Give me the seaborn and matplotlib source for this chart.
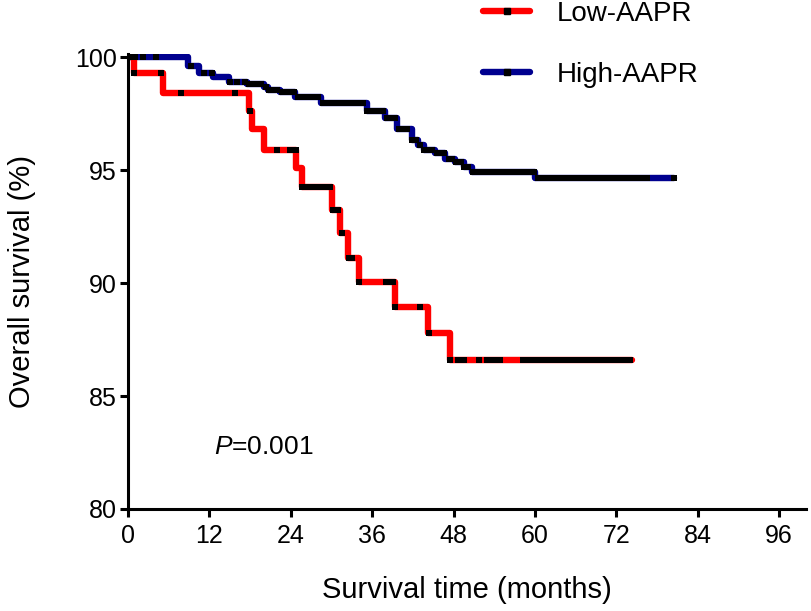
import numpy as np
import pandas as pd
import matplotlib
matplotlib.use('Agg')
import matplotlib.pyplot as plt
from matplotlib.lines import Line2D
import seaborn as sns

# Kaplan-Meier steps (months, % surviving)
low_t = [0, 0.9, 5.1, 17.9, 18.2, 20.1, 24.8, 25.6, 30.0, 31.2, 32.4, 34.1, 39.3, 44.3, 47.4]
low_s = [100, 99.29, 98.42, 97.6, 96.81, 95.88, 95.09, 94.26, 93.23, 92.21, 91.11, 90.04, 88.94, 87.79, 86.59]
low_end = 74.3
low_cens = [0.9, 4.9, 7.8, 15.7, 18.0, 21.9, 23.8, 24.3, 24.7, 25.7, 26.3, 26.9, 27.5, 28.1,
            28.7, 29.3, 29.8, 30.2, 30.6, 31.0, 31.5, 32.6, 33.0, 34.1, 38.1, 38.6, 39.0, 39.4,
            43.0, 44.4, 47.5, 48.7, 49.2, 49.6, 51.7, 52.9, 53.6, 54.2, 54.8, 58.3, 58.8, 59.3,
            59.8, 60.3, 60.8, 61.4, 61.9, 62.4, 62.9, 63.4, 63.9, 64.4, 64.9, 65.4, 65.9, 66.3,
            66.8, 67.3, 67.9, 68.4, 68.9, 69.4, 70.0, 70.5, 71.0, 71.5, 72.0, 72.5, 73.0, 73.5, 74.0]

high_t = [0, 8.9, 10.5, 12.5, 14.9, 17.6, 20.1, 20.6, 22.4, 24.6, 28.5, 35.2, 37.9, 39.6,
          41.8, 42.8, 43.7, 45.2, 46.7, 48.2, 49.6, 50.7, 60.0]
high_s = [100, 99.6, 99.3, 99.1, 98.9, 98.8, 98.7, 98.55, 98.45, 98.25, 97.95, 97.6, 97.3, 96.8,
          96.35, 96.1, 95.9, 95.75, 95.5, 95.35, 95.15, 94.9, 94.63]
high_end = 80.5
high_cens = [0.2, 0.6, 1.0, 2.2, 4.1, 9.3, 11.2, 12.3, 15.0, 16.0, 17.2, 17.9, 18.4, 19.1, 19.6,
             20.3, 20.8, 21.5, 22.0, 22.7, 23.2, 23.9, 24.4, 25.0, 25.7, 26.2, 26.9, 27.4, 28.0,
             28.7, 29.2, 29.8, 30.5, 31.0, 31.7, 32.2, 32.8, 33.5, 34.0, 34.6, 35.3, 35.8, 36.4,
             37.1, 37.6, 38.2, 38.9, 39.4, 40.0, 40.7, 41.2, 41.9, 42.4, 43.0, 43.7, 44.2, 44.8,
             45.5, 46.0, 46.6, 47.3, 47.8, 48.4, 49.1, 49.6, 50.2, 50.9, 51.4, 52.0, 52.7, 53.2,
             53.8, 54.5, 55.0, 55.6, 56.3, 56.8, 57.4, 58.1, 58.6, 59.2, 59.9, 60.4, 61.0, 61.7,
             62.2, 62.8, 63.5, 64.0, 64.6, 65.3, 65.8, 66.4, 67.1, 67.6, 68.2, 68.9, 69.4, 70.0,
             70.7, 71.2, 71.8, 72.5, 73.0, 73.6, 74.3, 74.8, 75.4, 76.1, 76.6, 80.5]

groups = ['Low-AAPR', 'High-AAPR']
colors = {'Low-AAPR': '#ff0000', 'High-AAPR': '#00008f'}
x_ticks = [0, 12, 24, 36, 48, 60, 72, 84, 96]
y_ticks = [80, 85, 90, 95, 100]


def curve_df(t, s, end, name):
    return pd.DataFrame({'time': list(t) + [end], 'surv': list(s) + [s[-1]], 'group': name})


def cens_df(t, s, cens, name):
    idx = np.searchsorted(t, cens, side='right') - 1
    return pd.DataFrame({'time': cens, 'surv': np.array(s)[idx], 'group': name})


curves = pd.concat([curve_df(low_t, low_s, low_end, groups[0]),
                    curve_df(high_t, high_s, high_end, groups[1])])
marks = pd.concat([cens_df(low_t, low_s, low_cens, groups[0]),
                   cens_df(high_t, high_s, high_cens, groups[1])])

sns.set_style('ticks')
plt.rcParams['font.family'] = ['Liberation Sans', 'DejaVu Sans']
plt.rcParams['mathtext.fontset'] = 'custom'
plt.rcParams['mathtext.it'] = 'Liberation Sans:italic'
plt.rcParams['mathtext.rm'] = 'Liberation Sans'
for k in ['text.color', 'axes.labelcolor', 'xtick.color', 'ytick.color']:
    plt.rcParams[k] = 'black'

fig = plt.figure(figsize=(8.11, 6.11), dpi=100)
ax = fig.add_axes([0.158, 0.167, 0.836, 0.745])

for g in groups[::-1]:
    sns.lineplot(data=curves[curves.group == g], x='time', y='surv', color=colors[g],
                 lw=4.6, drawstyle='steps-post', estimator=None, sort=False, ax=ax)
sns.scatterplot(data=marks, x='time', y='surv', color='black', marker='s', s=20,
                linewidth=0, ax=ax, zorder=5)

ax.set_xlim(0, 100)
ax.set_ylim(80, 100.15)
ax.set_xticks(x_ticks)
ax.set_yticks(y_ticks)
ax.tick_params(axis='both', labelsize=18, width=2.2, length=6, color='black')
ax.tick_params(axis='x', pad=5)
ax.tick_params(axis='y', pad=2)
for sp in ['left', 'bottom']:
    ax.spines[sp].set_linewidth(2.2)
    ax.spines[sp].set_color('black')
sns.despine(ax=ax)
ax.set_xlabel('Survival time (months)', fontsize=21, labelpad=20)
ax.set_ylabel('Overall survival (%)', fontsize=21, labelpad=28)

ax.text(12.7, 82.75, '$P$=0.001', fontsize=19, ha='left', va='center')

handles = [Line2D([], [], color=colors[g], lw=4.6, marker='s', markersize=4,
                  markerfacecolor='black', markeredgecolor='black') for g in groups]
fig.legend(handles, groups, loc='upper left', bbox_to_anchor=(0.565, 1.04), frameon=False,
           fontsize=20, numpoints=1, handlelength=1.7, handletextpad=0.95, labelspacing=1.28)

fig.savefig('out.png', dpi=100)
